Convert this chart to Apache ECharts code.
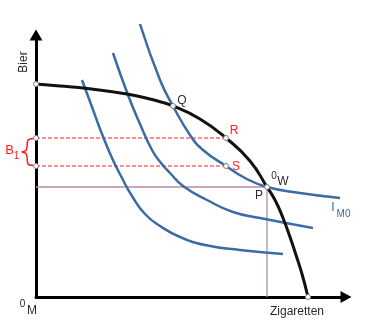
<!DOCTYPE html>
<html>
<head>
<meta charset="utf-8">
<script src="https://cdn.jsdelivr.net/npm/echarts@6/dist/echarts.min.js"></script>
<style>
  html, body { margin: 0; padding: 0; background: #fff; }
  #chart { width: 379px; height: 336px; }
</style>
</head>
<body>
<div id="chart"></div>
<script>
// Plot units: horizontal = Zigaretten, vertical = Bier
const frontier = [[0,213],[24,211],[47,209],[91,203],[114,198],[137,191],[164,178],[190,159],[214,136],[231,110],[239,97],[247,79],[254,60],[260,42],[266,23],[272,0]];
const indiffLow = [[46,217],[56,190],[66,163],[76,139],[86,119],[96,101],[109,83],[124,71],[144,60],[169,52],[204,47],[247,43]];
const indiffMid = [[77,244],[92,202],[104,173],[116,147],[125,134],[134,124],[147,111],[171,97],[197,85],[224,79],[277,69]];
const indiffM0 = [[104,273],[124,217],[137,191],[154,162],[167,147],[190,131],[209,119],[231,110],[264,104],[304,99]];
const pointQ = [137,191];
const pointR = [190,159];
const pointS = [190,131];
const pointW = [231,110];
const bierMax = 213;
const zigMax = 272;
const xAxisMax = 310;
const yAxisMax = 262;

const BLUE = '#3a6ba4';
const RED = '#ff1c1c';
const TEXT = '#2b2b2b';
const FONT = '"Liberation Sans", Arial, sans-serif';

const chart = echarts.init(document.getElementById('chart'));

function lineSeries(data, color, width, extra) {
  return Object.assign({
    type: 'line', data: data, symbol: 'none', clip: false, silent: true,
    lineStyle: { color: color, width: width }, animation: false
  }, extra || {});
}

chart.setOption({
  animation: false,
  grid: { left: 36, right: 33, top: 35, bottom: 39 },
  xAxis: {
    type: 'value', min: 0, max: xAxisMax,
    axisLine: { show: true, symbol: ['none', 'triangle'], symbolSize: [12, 11],
                lineStyle: { color: '#000', width: 3 } },
    axisTick: { show: false }, axisLabel: { show: false }, splitLine: { show: false }
  },
  yAxis: {
    type: 'value', min: 0, max: yAxisMax,
    axisLine: { show: true, symbol: ['none', 'triangle'], symbolSize: [13, 11],
                lineStyle: { color: '#000', width: 3 } },
    axisTick: { show: false }, axisLabel: { show: false }, splitLine: { show: false }
  },
  series: [
    lineSeries([[0, pointW[1]], pointW, [pointW[0], 0]], '#b88aa9', 1.3, { z: 1 }),
    lineSeries([[0, pointR[1]], pointR], RED, 1, { lineStyle: { color: RED, width: 1, type: [4, 2] }, z: 2 }),
    lineSeries([[0, pointS[1]], pointS], RED, 1, { lineStyle: { color: RED, width: 1, type: [4, 2] }, z: 2 }),
    lineSeries(indiffLow, BLUE, 2.5, { smooth: 0.5, z: 3 }),
    lineSeries(indiffMid, BLUE, 2.5, { smooth: 0.5, z: 3 }),
    lineSeries(indiffM0, BLUE, 2.5, { smooth: 0.5, z: 3 }),
    lineSeries(frontier, '#111', 3, { smooth: 0.5, z: 4 }),
    {
      type: 'scatter', clip: false, silent: true, z: 6,
      symbol: 'circle', symbolSize: 5,
      itemStyle: { color: '#fff', borderColor: '#808080', borderWidth: 1, opacity: 1 },
      data: [[0, bierMax], [0, pointR[1]], [0, pointS[1]], pointQ, pointR, pointS, pointW, [zigMax, 0]]
    }
  ]
});

function px(p) { return chart.convertToPixel({ gridIndex: 0 }, p); }
function label(text, anchor, dx, dy, size, color, extra) {
  const a = px(anchor);
  return Object.assign({
    type: 'text', x: a[0] + dx, y: a[1] + dy, silent: true, z: 20,
    style: { text: text, fill: color, font: size + 'px ' + FONT, align: 'center', verticalAlign: 'middle' }
  }, extra || {});
}

// curly brace spanning the two budget levels, just left of the Bier axis
const bTop = px([0, pointR[1]]), bBot = px([0, pointS[1]]);
const ax = bTop[0], yT = bTop[1], yB = bBot[1], yM = (yT + yB) / 2;
const braceShape = [[ax - 3, yT + 0.5], [ax - 8, yT + 2], [ax - 9, yM - 5], [ax - 10, yM - 1.5], [ax - 14, yM],
                    [ax - 10, yM + 1.5], [ax - 9, yM + 5], [ax - 8, yB - 2], [ax - 3, yB - 0.5]];

const lastM0 = indiffM0[indiffM0.length - 1];
chart.setOption({
  graphic: [
    { type: 'polyline', silent: true, z: 15, shape: { points: braceShape, smooth: 0.3 },
      style: { stroke: RED, lineWidth: 1.5, fill: null } },
    label('Bier', [0, yAxisMax], -12, 27, 12, TEXT, { rotation: Math.PI / 2 }),
    label('Zigaretten', [zigMax, 0], -11, 15, 12, TEXT),
    label('0', [0, 0], -13.5, 7, 10, TEXT),
    label('M', [0, 0], -4, 14, 12, TEXT),
    label('Q', pointQ, 9, -5, 12, TEXT),
    label('R', pointR, 8, -7, 12, RED),
    label('S', pointS, 10, 1, 12, RED),
    label('P', pointW, -8, 9, 12, TEXT),
    label('0', pointW, 7, -11, 10, TEXT),
    label('W', pointW, 16, -5.5, 12, TEXT),
    label('I', lastM0, -7, 10, 12, BLUE),
    label('M0', lastM0, 3.5, 16.5, 10, BLUE),
    label('B', [0, pointS[1] + (pointR[1] - pointS[1]) / 2], -26.5, -1.5, 13, RED),
    label('1', [0, pointS[1] + (pointR[1] - pointS[1]) / 2], -19.5, 4, 10, RED)
  ]
});
</script>
</body>
</html>
